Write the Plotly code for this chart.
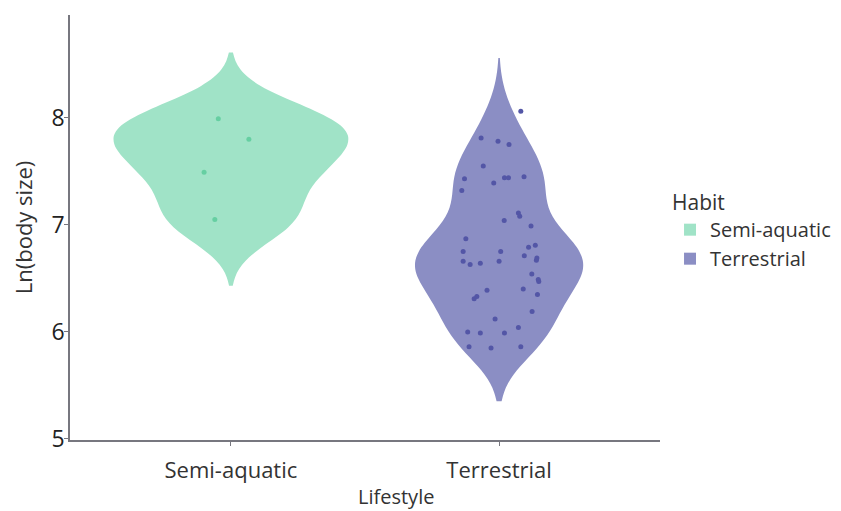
import numpy as np
import plotly.graph_objects as go

categories = ["Semi-aquatic", "Terrestrial"]

semi_y = [7.99, 7.80, 7.49, 7.05]
semi_jit = [-0.047, 0.067, -0.100, -0.060]

terr_y = [8.06, 7.81, 7.78, 7.75, 7.55, 7.43, 7.44, 7.44, 7.39, 7.45,
          7.32, 7.11, 7.08, 7.04, 6.99, 6.87, 6.75, 6.75, 6.79, 6.81,
          6.66, 6.63, 6.64, 6.66, 6.71, 6.67, 6.69, 6.54, 6.49, 6.47,
          6.39, 6.31, 6.33, 6.40, 6.35, 6.19, 6.12, 6.04, 6.00, 5.99,
          5.99, 5.86, 5.85, 5.86]
terr_jit = [0.081, -0.067, -0.004, 0.037, -0.059, -0.129, 0.020, 0.035, -0.020, 0.093,
            -0.139, 0.072, 0.077, 0.019, 0.119, -0.124, -0.134, 0.006, 0.110, 0.135,
            -0.134, -0.108, -0.070, 0.000, 0.094, 0.139, 0.141, 0.122, 0.146, 0.148,
            -0.045, -0.093, -0.083, 0.090, 0.143, 0.123, -0.015, 0.072, -0.117, -0.070,
            0.020, -0.112, -0.030, 0.081]

violin_widths = [0.873, 0.625]
span_factors = [2.6, 2.0]
fill_colors = ["#a0e3c7", "#8b8ec4"]
point_colors = ["#66cfa2", "#5356a6"]


def nrd0(v):
    v = np.asarray(v, dtype=float)
    sd = v.std(ddof=1)
    q75, q25 = np.percentile(v, [75, 25])
    lo = min(sd, (q75 - q25) / 1.34)
    return 0.9 * lo * len(v) ** -0.2


fig = go.Figure()
for i, ys in enumerate([semi_y, terr_y]):
    bw = nrd0(ys)
    k = span_factors[i]
    fig.add_trace(go.Violin(
        x=[i] * len(ys), y=ys, name=categories[i],
        width=violin_widths[i], scalemode="width",
        bandwidth=bw, spanmode="manual",
        span=[min(ys) - k * bw, max(ys) + k * bw],
        fillcolor=fill_colors[i], line=dict(color=fill_colors[i], width=0),
        opacity=1, points=False, box_visible=False, meanline_visible=False,
        hoverinfo="skip",
    ))
for i, (ys, jit) in enumerate([(semi_y, semi_jit), (terr_y, terr_jit)]):
    fig.add_trace(go.Scatter(
        x=[i + j for j in jit], y=ys, mode="markers",
        marker=dict(color=point_colors[i], size=5),
        showlegend=False, hoverinfo="skip",
    ))

axis_common = dict(showgrid=False, zeroline=False, showline=True, automargin=False,
                   linecolor="#77777f", linewidth=1.5, ticks="outside",
                   tickcolor="#77777f", ticklen=4, tickwidth=1)
fig.update_layout(
    width=833, height=503,
    margin=dict(l=62, r=181, t=7, b=71, autoexpand=False),
    paper_bgcolor="white", plot_bgcolor="white",
    font=dict(family="Open Sans", color="#333333"),
    violinmode="overlay",
    xaxis=dict(range=[-0.6, 1.6], tickvals=[0, 1], ticktext=categories,
               tickfont=dict(size=22, color="#333333"), ticklabelstandoff=6,
               **axis_common),
    yaxis=dict(range=[4.99, 8.96], tickvals=[5, 6, 7, 8],
               tickfont=dict(size=23, color="#222222"), ticklabelstandoff=-5,
               title=dict(text="Ln(body size)", font=dict(size=22), standoff=14),
               **axis_common),
    legend=dict(title=dict(text="Habit", font=dict(size=21)),
                font=dict(size=20), x=1.017, y=0.605, xanchor="left", yanchor="top",
                tracegroupgap=0),
    annotations=[dict(text="Lifestyle", xref="paper", yref="paper",
                      x=0.553, y=-0.132, xanchor="center", yanchor="middle",
                      showarrow=False, font=dict(size=20, color="#333333"))],
)
fig.write_html("out.html")
